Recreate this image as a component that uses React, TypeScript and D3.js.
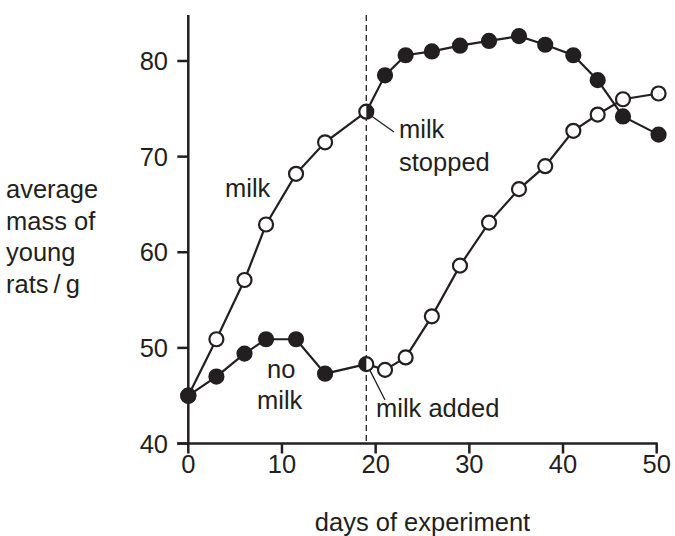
import React from 'react';
import * as d3 from 'd3';

// days and average mass (g)
const daysBefore = [0, 3, 6, 8.3, 11.5, 14.6, 19];
const milkBefore = [45, 50.9, 57.1, 62.9, 68.2, 71.5, 74.7];
const noMilkBefore = [45, 47, 49.4, 50.9, 50.9, 47.3, 48.3];

const daysAfter = [19, 21, 23.2, 26, 29, 32.1, 35.3, 38.1, 41.1, 43.7, 46.4, 50.2];
const milkStopped = [74.7, 78.5, 80.6, 81, 81.6, 82.1, 82.6, 81.7, 80.6, 78, 74.2, 72.3];
const milkAdded = [48.3, 47.7, 49, 53.3, 58.6, 63.1, 66.6, 69, 72.7, 74.4, 76, 76.6];

const xTicks = [0, 10, 20, 30, 40, 50];
const yTicks = [40, 50, 60, 70, 80];
const switchDay = 19;
const yLabelLines = ['average', 'mass of', 'young', 'rats\u2009/\u2009g'];

const W = 675;
const H = 536;
const ink = '#231f20';
const font = '"Liberation Sans", Arial, sans-serif';
const fs = 25.5;
const R = 7;

const App: React.FC = () => {
  const x = d3.scaleLinear().domain([0, 50]).range([188.3, 656.7]);
  const y = d3.scaleLinear().domain([40, 80]).range([443.5, 61]);
  const yTop = y(84.8);

  const line = d3.line<[number, number]>().x(d => x(d[0])).y(d => y(d[1]));
  const zip = (xs: number[], ys: number[]) => xs.map((d, i) => [d, ys[i]] as [number, number]);

  const open = [
    ...zip(daysBefore, milkBefore).slice(0, -1),
    ...zip(daysAfter, milkAdded).slice(1),
  ];
  const filled = [
    ...zip(daysBefore, noMilkBefore).slice(0, -1),
    ...zip(daysAfter, milkStopped).slice(1),
  ];

  // half disc: side = 1 fills right half, -1 fills left half
  const halfDisc = (cx: number, cy: number, side: number) =>
    `M${cx},${cy - R} A${R},${R} 0 0 ${side > 0 ? 1 : 0} ${cx},${cy + R} Z`;

  const sx = x(switchDay);
  const topY = y(milkBefore[milkBefore.length - 1]);
  const botY = y(noMilkBefore[noMilkBefore.length - 1]);

  return (
    <svg width={W} height={H} style={{ position: 'absolute', left: 0, top: 0, background: '#fff' }}
      fontFamily={font} fontSize={fs} fill={ink}>
      {/* axes */}
      <line x1={x(0)} x2={x(0)} y1={yTop} y2={y(40)} stroke={ink} strokeWidth={2.5} />
      <line x1={x(0) - 11} x2={x(50) + 1} y1={y(40)} y2={y(40)} stroke={ink} strokeWidth={2.5} />
      {xTicks.map(t => (
        <g key={'x' + t}>
          <line x1={x(t)} x2={x(t)} y1={y(40)} y2={y(40) + 10} stroke={ink} strokeWidth={2.5} />
          <text x={x(t)} y={473} textAnchor="middle">{t}</text>
        </g>
      ))}
      {yTicks.map(t => (
        <g key={'y' + t}>
          <line x1={x(0) - 11} x2={x(0)} y1={y(t)} y2={y(t)} stroke={ink} strokeWidth={2.5} />
          <text x={168} y={y(t) + 9} textAnchor="end">{t}</text>
        </g>
      ))}

      {/* axis titles */}
      {yLabelLines.map((s, i) => (
        <text key={s} x={6} y={198 + i * 31.7}>{s}</text>
      ))}
      <text x={(x(0) + x(50)) / 2} y={531} textAnchor="middle">days of experiment</text>

      {/* switch day */}
      <line x1={sx} x2={sx} y1={yTop} y2={y(40)} stroke={ink} strokeWidth={1.3} strokeDasharray="6,4" />

      {/* series lines */}
      <path d={line(zip(daysBefore, milkBefore)) || ''} fill="none" stroke={ink} strokeWidth={2.2} />
      <path d={line(zip(daysBefore, noMilkBefore)) || ''} fill="none" stroke={ink} strokeWidth={2.2} />
      <path d={line(zip(daysAfter, milkStopped)) || ''} fill="none" stroke={ink} strokeWidth={2.2} />
      <path d={line(zip(daysAfter, milkAdded)) || ''} fill="none" stroke={ink} strokeWidth={2.2} />

      {/* leader lines */}
      <line x1={sx + 2} y1={topY + 2} x2={394} y2={132} stroke={ink} strokeWidth={1.3} />
      <line x1={sx + 2} y1={botY + 3} x2={385} y2={400} stroke={ink} strokeWidth={1.3} />

      {/* markers */}
      {open.map((d, i) => (
        <circle key={'o' + i} cx={x(d[0])} cy={y(d[1])} r={R} fill="#fff" stroke={ink} strokeWidth={2.2} />
      ))}
      {filled.map((d, i) => (
        <circle key={'f' + i} cx={x(d[0])} cy={y(d[1])} r={R} fill={ink} stroke={ink} strokeWidth={2.2} />
      ))}
      <circle cx={sx} cy={topY} r={R} fill="#fff" stroke={ink} strokeWidth={2.2} />
      <path d={halfDisc(sx, topY, 1)} fill={ink} />
      <circle cx={sx} cy={botY} r={R} fill="#fff" stroke={ink} strokeWidth={2.2} />
      <path d={halfDisc(sx, botY, -1)} fill={ink} />

      {/* annotations */}
      <text x={225} y={197}>milk</text>
      <text x={267} y={378}>no</text>
      <text x={257} y={409}>milk</text>
      <text x={399} y={138}>milk</text>
      <text x={399} y={171}>stopped</text>
      <text x={376} y={417}>milk added</text>
    </svg>
  );
};

export default App;
